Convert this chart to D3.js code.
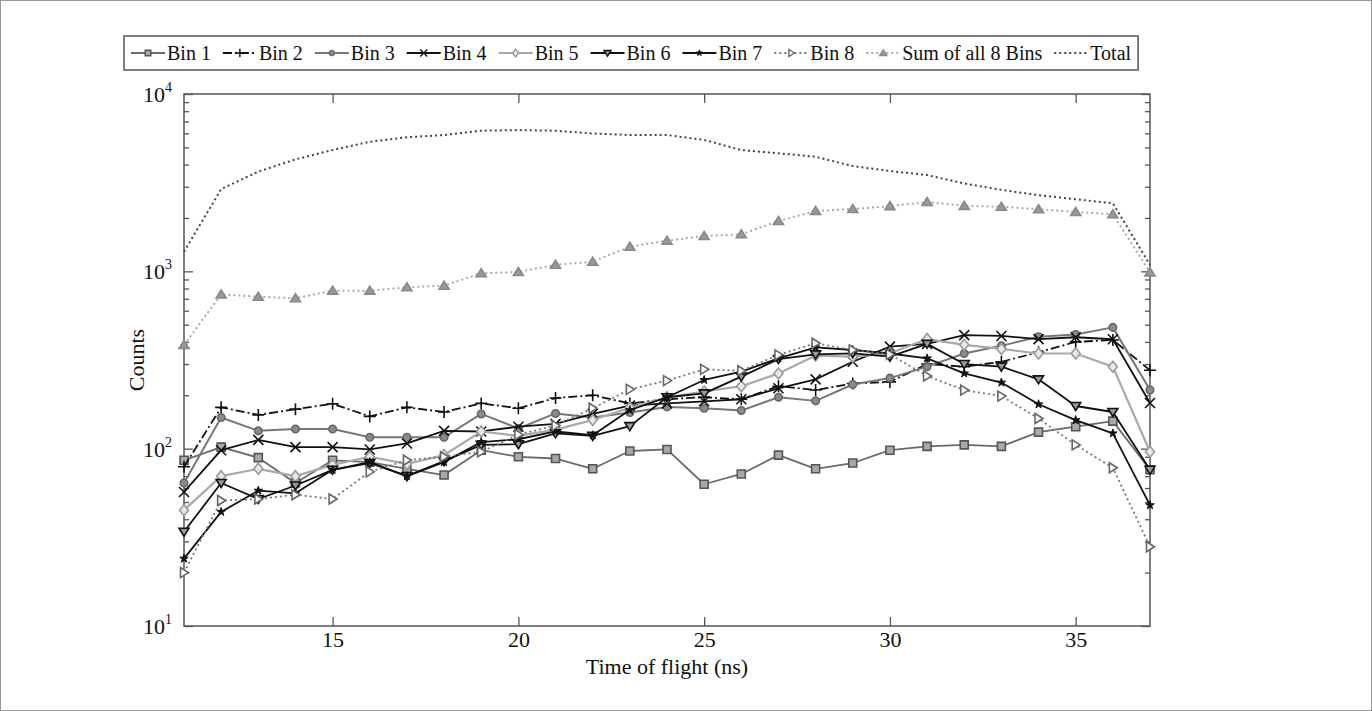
<!DOCTYPE html>
<html><head><meta charset="utf-8">
<script src="https://cdn.jsdelivr.net/npm/d3@7"></script>
<style>
body{margin:0;background:#fff}
svg{display:block}
text{font-family:"Liberation Serif","Times New Roman",serif;fill:#111}
</style></head>
<body><svg id="c" width="1372" height="711"></svg>
<script>
const tof = [11,12,13,14,15,16,17,18,19,20,21,22,23,24,25,26,27,28,29,30,31,32,33,34,35,36,37];
const bin1 = [86,102,89,64,86,84,77,71,98,90,88,77,97,99,63,72,92,77,83,98,103,105,103,124,133,143,76];
const bin2 = [79,171,155,167,179,152,171,161,180,169,193,200,180,190,195,190,225,214,233,238,300,290,309,350,400,410,277];
const bin3 = [64,150,126,129,129,116,116,116,157,130,158,150,160,172,169,164,195,186,230,250,290,344,380,428,440,483,214];
const bin4 = [57,98,112,102,102,99,107,126,125,133,138,157,175,180,185,190,219,246,309,376,390,437,432,415,425,414,181];
const bin5 = [45,70,77,70,81,90,82,92,125,118,128,145,170,195,210,225,265,335,330,345,415,385,365,344,344,290,96];
const bin6 = [34,64,52,62,76,83,70,85,105,106,122,118,134,195,205,255,320,340,345,330,390,300,290,246,174,161,76];
const bin7 = [24,44,58,56,76,84,70,84,109,113,125,119,165,195,244,272,323,373,360,344,323,266,236,178,145,122,48];
const bin8 = [20,51,52,55,52,74,86,90,96,120,135,169,216,242,280,275,338,393,360,340,257,214,198,148,105,78,28];
const sumBins = [384,741,719,705,778,778,813,830,975,991,1089,1133,1377,1489,1582,1617,1923,2190,2245,2333,2460,2340,2315,2240,2160,2100,987];
const total = [1290,2910,3650,4280,4830,5380,5700,5870,6210,6260,6210,5990,5870,5870,5510,4830,4630,4430,3920,3680,3490,3130,2880,2690,2550,2420,1086];
const seriesNames = ["Bin 1","Bin 2","Bin 3","Bin 4","Bin 5","Bin 6","Bin 7","Bin 8","Sum of all 8 Bins","Total"];
const xTicks = [15,20,25,30,35];
const yMajor = [10,100,1000,10000];
const yExp = ["1","2","3","4"];

const styles = [
  {stroke:"#6a6a6a", w:1.8, dash:null, marker:"square", mfill:"#a8a8a8", mstroke:"#555"},
  {stroke:"#111", w:1.8, dash:"9,3,2,3", marker:"plus", mfill:"none", mstroke:"#111"},
  {stroke:"#777", w:2, dash:null, marker:"circle", mfill:"#8a8a8a", mstroke:"#666"},
  {stroke:"#111", w:1.8, dash:null, marker:"x", mfill:"none", mstroke:"#111"},
  {stroke:"#a9a9a9", w:2.2, dash:null, marker:"diamond", mfill:"#e8e8e8", mstroke:"#9a9a9a"},
  {stroke:"#111", w:1.8, dash:null, marker:"tridown", mfill:"#999", mstroke:"#111"},
  {stroke:"#111", w:1.8, dash:null, marker:"star", mfill:"#111", mstroke:"#111"},
  {stroke:"#777", w:1.8, dash:"2,3", marker:"triright", mfill:"#fff", mstroke:"#666"},
  {stroke:"#aaa", w:2, dash:"2,3", marker:"triup", mfill:"#999", mstroke:"#888"},
  {stroke:"#444", w:2, dash:"2,3", marker:null}
];
const data = [bin1,bin2,bin3,bin4,bin5,bin6,bin7,bin8,sumBins,total];

const svg = d3.select("#c");
svg.append("rect").attr("x",0.5).attr("y",0.5).attr("width",1371).attr("height",710)
  .attr("fill","#fff").attr("stroke","#999");

const L=184, R=1150, T=94, B=626;
const x = d3.scaleLinear().domain([11,37]).range([L,R]);
const y = d3.scaleLog().domain([10,10000]).range([B,T]);

const minors = [];
[10,100,1000].forEach(d=>{for(let k=2;k<=9;k++) minors.push(d*k);});

const axisCol = "#555";
function styleAxis(g){ g.select(".domain").remove(); g.selectAll("line").attr("stroke",axisCol).attr("stroke-width",1.3); }

svg.append("g").attr("transform",`translate(0,${B})`)
  .call(d3.axisBottom(x).tickValues(xTicks).tickSizeInner(-9).tickSizeOuter(0).tickPadding(5))
  .call(styleAxis)
  .call(g=>g.selectAll("text").attr("font-size",22).attr("fill","#111").style("font-family","Liberation Serif"));
svg.append("g").attr("transform",`translate(0,${T})`)
  .call(d3.axisTop(x).tickValues(xTicks).tickSizeInner(-9).tickSizeOuter(0).tickFormat(""))
  .call(styleAxis);
[[L,d3.axisLeft],[R,d3.axisRight]].forEach(([px,ax])=>{
  svg.append("g").attr("transform",`translate(${px},0)`)
    .call(ax(y).tickValues(yMajor).tickSizeInner(-9).tickSizeOuter(0).tickFormat(""))
    .call(styleAxis);
  svg.append("g").attr("transform",`translate(${px},0)`)
    .call(ax(y).tickValues(minors).tickSizeInner(-5).tickSizeOuter(0).tickFormat(""))
    .call(styleAxis);
});
svg.append("rect").attr("x",L).attr("y",T).attr("width",R-L).attr("height",B-T)
  .attr("fill","none").attr("stroke",axisCol).attr("stroke-width",1.5);

yMajor.forEach((v,i)=>{
  const t = svg.append("text").attr("x",L-12).attr("y",y(v)+8).attr("text-anchor","end").attr("font-size",22);
  t.append("tspan").text("10");
  t.append("tspan").attr("font-size",14).attr("dy",-10).text(yExp[i]);
});

svg.append("text").attr("x",(L+R)/2).attr("y",674).attr("text-anchor","middle").attr("font-size",22).text("Time of flight (ns)");
svg.append("text").attr("transform",`translate(144,${(T+B)/2}) rotate(-90)`).attr("text-anchor","middle").attr("font-size",22).text("Counts");

function markerPath(type, s){
  const r=s;
  switch(type){
    case "square": return `M${-r*0.8},${-r*0.8}h${1.6*r}v${1.6*r}h${-1.6*r}Z`;
    case "plus": return `M${-r*1.2},0H${r*1.2}M0,${-r*1.2}V${r*1.2}`;
    case "x": return `M${-r},${-r}L${r},${r}M${-r},${r}L${r},${-r}`;
    case "circle": return d3.symbol(d3.symbolCircle, Math.PI*(r*0.75)**2)();
    case "diamond": return `M0,${-r*1.1}L${r*0.9},0L0,${r*1.1}L${-r*0.9},0Z`;
    case "tridown": return `M${-r},${-r*0.7}L${r},${-r*0.7}L0,${r*0.9}Z`;
    case "triup": return `M${-r},${r*0.7}L${r},${r*0.7}L0,${-r*0.9}Z`;
    case "triright": return `M${-r*0.7},${-r}L${r*0.9},0L${-r*0.7},${r}Z`;
    case "star": return d3.symbol(d3.symbolStar, r*r*0.9)();
  }
}

const line = d3.line().x((d,i)=>x(tof[i])).y(d=>y(d));
const order = [9,8,0,1,2,3,4,5,6,7];
order.forEach(si=>{
  const st = styles[si];
  const g = svg.append("g");
  g.append("path").datum(data[si]).attr("d",line).attr("fill","none")
    .attr("stroke",st.stroke).attr("stroke-width",st.w)
    .attr("stroke-dasharray",st.dash).attr("stroke-linejoin","round");
  if(st.marker){
    g.selectAll("path.m").data(data[si]).join("path").attr("class","m")
      .attr("transform",(d,i)=>`translate(${x(tof[i])},${y(d)})`)
      .attr("d",markerPath(st.marker,5))
      .attr("fill",st.mfill).attr("stroke",st.mstroke).attr("stroke-width",st.marker==="star"?1:1.6);
  }
});

const lg = svg.append("g");
const lx0=124, ly0=36, lh=34;
let cx = lx0+7;
const sampleLen=34;
seriesNames.forEach((name,i)=>{
  const st = styles[i];
  const cy = ly0+lh/2;
  lg.append("line").attr("x1",cx).attr("x2",cx+sampleLen).attr("y1",cy).attr("y2",cy)
    .attr("stroke",st.stroke).attr("stroke-width",st.w).attr("stroke-dasharray",st.dash);
  if(st.marker){
    lg.append("path").attr("transform",`translate(${cx+sampleLen/2},${cy})`)
      .attr("d",markerPath(st.marker,3.5)).attr("fill",st.mfill).attr("stroke",st.mstroke).attr("stroke-width",st.marker==="star"?1:1.4);
  }
  const t = lg.append("text").attr("x",cx+sampleLen+2).attr("y",cy+7).attr("font-size",20).text(name);
  cx += sampleLen+2+t.node().getComputedTextLength()+12;
});
lg.insert("rect",":first-child").attr("x",lx0).attr("y",ly0).attr("width",cx-lx0-5).attr("height",lh)
  .attr("fill","#fff").attr("stroke","#555").attr("stroke-width",1.5);
</script></body></html>
